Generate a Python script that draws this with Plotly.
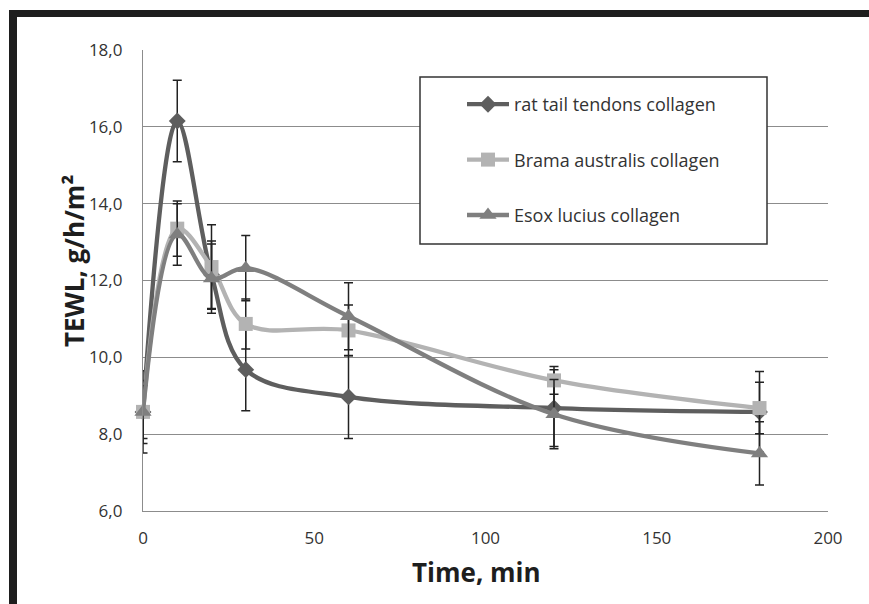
import plotly.graph_objects as go

# ---- data ----
time_min = [0, 10, 20, 30, 60, 120, 180]
series_names = ["rat tail tendons collagen", "Brama australis collagen", "Esox lucius collagen"]
rat_tewl = [8.58, 16.15, 12.15, 9.68, 8.97, 8.68, 8.58]
rat_err = [1.07, 1.06, 0.88, 1.07, 1.08, 1.0, 1.05]
brama_tewl = [8.58, 13.35, 12.35, 10.87, 10.7, 9.4, 8.68]
brama_err = [0.82, 0.72, 1.1, 0.65, 0.66, 0.36, 0.67]
esox_tewl = [8.58, 13.2, 12.05, 12.32, 11.07, 8.52, 7.5]
esox_err = [0.69, 0.8, 0.9, 0.85, 0.87, 0.9, 0.82]
y_ticks = [6, 8, 10, 12, 14, 16, 18]
y_ticktext = ["6,0", "8,0", "10,0", "12,0", "14,0", "16,0", "18,0"]
x_ticks = [0, 50, 100, 150, 200]

W, H = 869, 604
L, R, T, B = 143, 828, 50, 511  # plot area in px


def px_x(p):
    return (p - L) / (R - L)


def px_y(p):
    return (B - p) / (B - T)


styles = [
    dict(color="#5e5e5e", symbol="diamond", size=13),
    dict(color="#b3b3b3", symbol="square", size=14),
    dict(color="#7f7f7f", symbol="triangle-up", size=15),
]
values = [rat_tewl, brama_tewl, esox_tewl]
errors = [rat_err, brama_err, esox_err]

fig = go.Figure()
for name, vals, errs, st in zip(series_names, values, errors, styles):
    fig.add_trace(go.Scatter(
        x=time_min, y=vals, name=name, mode="lines+markers",
        legendgroup=name, cliponaxis=False,
        line=dict(color=st["color"], width=4.3, shape="spline", smoothing=1.0),
        marker=dict(color=st["color"], symbol=st["symbol"], size=st["size"],
                    line=dict(width=0)),
        error_y=dict(type="data", array=errs, visible=True, color="#222222",
                     thickness=1.5, width=4.5),
    ))

font_main = "Open Sans, DejaVu Sans, sans-serif"

fig.update_layout(
    width=W, height=H,
    margin=dict(l=L, r=W - R, t=T, b=H - B),
    paper_bgcolor="white", plot_bgcolor="white",
    font=dict(family=font_main, color="#333333", size=17),
    showlegend=True,
    legend=dict(
        x=px_x(462), y=px_y(86), xanchor="left", yanchor="top",
        bgcolor="rgba(0,0,0,0)", borderwidth=0,
        font=dict(family=font_main, size=18, color="#333333"),
        tracegroupgap=29, itemwidth=42,
    ),
    xaxis=dict(
        range=[0, 200], tickvals=x_ticks, ticktext=[str(v) for v in x_ticks],
        showgrid=False, zeroline=False, showline=True, linecolor="#8c8c8c",
        linewidth=1.3, ticks="", ticklabelstandoff=11,
        tickfont=dict(size=17, color="#333333"),
    ),
    yaxis=dict(
        range=[6, 18], tickvals=y_ticks, ticktext=y_ticktext,
        showgrid=True, gridcolor="#8c8c8c", gridwidth=1.3, zeroline=False,
        showline=True, linecolor="#8c8c8c", linewidth=1.3, ticks="",
        ticklabelstandoff=16,
        tickfont=dict(size=17, color="#333333"),
    ),
    shapes=[
        # legend box
        dict(type="rect", xref="paper", yref="paper",
             x0=px_x(420), x1=px_x(767), y0=px_y(244), y1=px_y(77),
             line=dict(color="#333333", width=1.5), fillcolor="white", layer="above"),
        # black frame (top and left)
        dict(type="rect", xref="paper", yref="paper",
             x0=px_x(9), x1=px_x(869), y0=px_y(17), y1=px_y(10),
             line=dict(width=0), fillcolor="#1e1e1e", layer="above"),
        dict(type="rect", xref="paper", yref="paper",
             x0=px_x(9), x1=px_x(17), y0=px_y(604), y1=px_y(10),
             line=dict(width=0), fillcolor="#1e1e1e", layer="above"),
    ],
    annotations=[
        dict(text="<b>TEWL, g/h/m²</b>", xref="paper", yref="paper",
             x=px_x(74), y=px_y(261), textangle=-90, showarrow=False,
             xanchor="center", yanchor="middle",
             font=dict(family=font_main, size=26, color="#1e1e1e")),
        dict(text="<b>Time, min</b>", xref="paper", yref="paper",
             x=px_x(476), y=px_y(572), showarrow=False,
             xanchor="center", yanchor="middle",
             font=dict(family=font_main, size=26, color="#1e1e1e")),
    ],
)

fig.write_html("out.html")
